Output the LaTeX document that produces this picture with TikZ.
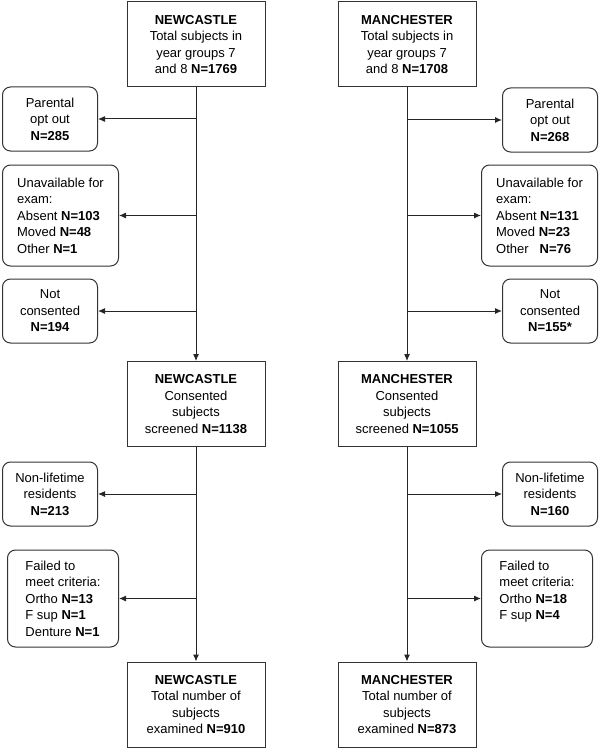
\documentclass[tikz,border=0pt]{standalone}
\usepackage{fontspec}
\setmainfont{Liberation Sans}
\usetikzlibrary{positioning,calc,arrows.meta}

\tikzset{
	mainbox/.style={draw=black!80, line width=1pt, minimum width=138pt, minimum height=85pt, align=center, inner sep=2pt},
	sidebox/.style={draw=black!80, line width=1pt, rounded corners=8pt, minimum width=95pt, minimum height=64pt, align=center, inner sep=2pt},
	flow/.style={draw=black!85, line width=1pt, -{Latex[length=7pt,width=6pt]}},
}

\begin{document}
\begin{tikzpicture}[x=1pt, y=-1pt, font=\fontsize{13}{16.5}\selectfont]
		\useasboundingbox (0,0) rectangle (600,749);
		% Newcastle
		\node[mainbox] (nctop) at (196,44.5) {\textbf{NEWCASTLE}\\Total subjects in\\year groups 7\\and 8 \textbf{N=1769}};
		\node[mainbox] (nccon) at (196,404) {\textbf{NEWCASTLE}\\Consented\\subjects\\screened \textbf{N=1138}};
		\node[mainbox] (ncend) at (196,704.5) {\textbf{NEWCASTLE}\\Total number of\\subjects\\examined \textbf{N=910}};
		\node[sidebox, right] (ncpar) at (2,119) {Parental\\opt out\\\textbf{N=285}};
		\node[sidebox, right, align=left, minimum width=116pt, minimum height=101pt] (ncun) at (2,215.5) {Unavailable for\\exam:\\Absent \textbf{N=103}\\Moved \textbf{N=48}\\Other \textbf{N=1}};
		\node[sidebox, right] (ncnot) at (2,311) {Not\\consented\\\textbf{N=194}};
		\node[sidebox, right] (ncres) at (2,494) {Non-lifetime\\residents\\\textbf{N=213}};
		\node[sidebox, right, align=left, minimum width=111pt, minimum height=97pt] (ncfail) at (7,598.5) {Failed to\\meet criteria:\\Ortho \textbf{N=13}\\F sup \textbf{N=1}\\Denture \textbf{N=1}};
		
		% Manchester
		\node[mainbox] (mctop) at (407,44.5) {\textbf{MANCHESTER}\\Total subjects in\\year groups 7\\and 8 \textbf{N=1708}};
		\node[mainbox] (mccon) at (407,404) {\textbf{MANCHESTER}\\Consented\\subjects\\screened \textbf{N=1055}};
		\node[mainbox] (mcend) at (407,704.5) {\textbf{MANCHESTER}\\Total number of\\subjects\\examined \textbf{N=873}};
		\node[sidebox, left] (mcpar) at (598,120) {Parental\\opt out\\\textbf{N=268}};
		\node[sidebox, left, align=left, minimum width=116pt, minimum height=101pt] (mcun) at (598,215.5) {Unavailable for\\exam:\\Absent \textbf{N=131}\\Moved \textbf{N=23}\\Other\hspace{11pt}\textbf{N=76}};
		\node[sidebox, left] (mcnot) at (598,311) {Not\\consented\\\textbf{N=155*}};
		\node[sidebox, left] (mcres) at (598,494) {Non-lifetime\\residents\\\textbf{N=160}};
		\node[sidebox, left, align=left, minimum width=111pt, minimum height=97pt] (mcfail) at (593,598.5) {Failed to\\meet criteria:\\Ortho \textbf{N=18}\\F sup \textbf{N=4}\\~};
		
		\draw[flow] (nctop) -- (nccon);
		\draw[flow] (nccon) -- (ncend);
		\foreach \b in {ncpar,ncun,ncnot}
			\draw[flow] (nctop.south |- \b.east) -- (\b);
		\foreach \b in {ncres,ncfail}
			\draw[flow] (nccon.south |- \b.east) -- (\b);
		
		\draw[flow] (mctop) -- (mccon);
		\draw[flow] (mccon) -- (mcend);
		\foreach \b in {mcpar,mcun,mcnot}
			\draw[flow] (mctop.south |- \b.west) -- (\b);
		\foreach \b in {mcres,mcfail}
			\draw[flow] (mccon.south |- \b.west) -- (\b);
	\end{tikzpicture}
\end{document}
